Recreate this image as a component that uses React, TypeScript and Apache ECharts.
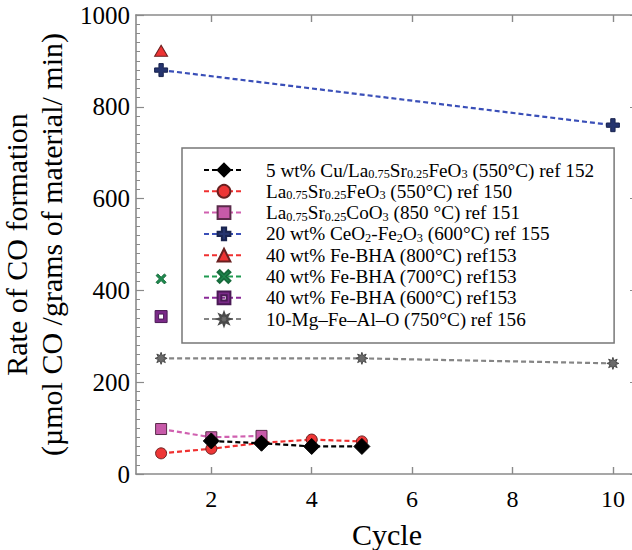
import React, { useEffect, useRef } from "react";
import * as echarts from "echarts";

// ---- data ----
const cycleTicks = [2, 4, 6, 8, 10];
const yTicks = [0, 200, 400, 600, 800, 1000];

const cuLsfCycles = [2, 3, 4, 5];
const cuLsfRates = [72, 67, 60, 60];

const lsfCycles = [1, 2, 3, 4, 5];
const lsfRates = [45, 55, 68, 75, 71];

const lscCycles = [1, 2, 3];
const lscRates = [98, 80, 83];

const ceFeCycles = [1, 10];
const ceFeRates = [880, 760];

const bha800Cycles = [1];
const bha800Rates = [922];

const bha700Cycles = [1];
const bha700Rates = [425];

const bha600Cycles = [1];
const bha600Rates = [343];

const mgCycles = [1, 5, 10];
const mgRates = [252, 252, 241];

const seriesNames = [
  "5 wt% Cu/La0.75Sr0.25FeO3 (550°C) ref 152",
  "La0.75Sr0.25FeO3 (550°C) ref 150",
  "La0.75Sr0.25CoO3 (850 °C) ref 151",
  "20 wt% CeO2-Fe2O3 (600°C) ref 155",
  "40 wt% Fe-BHA (800°C) ref153",
  "40 wt% Fe-BHA (700°C) ref153",
  "40 wt% Fe-BHA (600°C) ref153",
  "10-Mg–Fe–Al–O (750°C) ref 156",
];
const richLabels = [
  "5 wt% Cu/La{s|0.75}Sr{s|0.25}FeO{s|3} (550°C) ref 152",
  "La{s|0.75}Sr{s|0.25}FeO{s|3} (550°C) ref 150",
  "La{s|0.75}Sr{s|0.25}CoO{s|3} (850 °C) ref 151",
  "20 wt% CeO{s|2}-Fe{s|2}O{s|3} (600°C) ref 155",
  "40 wt% Fe-BHA (800°C) ref153",
  "40 wt% Fe-BHA (700°C) ref153",
  "40 wt% Fe-BHA (600°C) ref153",
  "10-Mg–Fe–Al–O (750°C) ref 156",
];

const pairs = (xs: number[], ys: number[]) => xs.map((x, i) => [x, ys[i]]);

function starPath(points: number, r1: number, r2: number) {
  let d = "";
  for (let i = 0; i < points * 2; i++) {
    const a = (i * Math.PI) / points - Math.PI / 2;
    const r = i % 2 === 0 ? r1 : r2;
    const x = (10 + r * Math.cos(a)).toFixed(2);
    const y = (10 + r * Math.sin(a)).toFixed(2);
    d += (i === 0 ? "M" : "L") + x + "," + y;
  }
  return "path://" + d + "Z";
}

const PLUS = "path://M4,0H8V4H12V8H8V12H4V8H0V4H4Z";
const XMARK = "path://M0,2L2,0L6,4L10,0L12,2L8,6L12,10L10,12L6,8L2,12L0,10L4,6Z";
const OPENSQ = "path://M0,0H12V12H0Z M3.5,3.5V8.5H8.5V3.5Z";
const STAR = starPath(8, 10, 5);

const FONT = "Liberation Serif";
const AXIS_COLOR = "#8a8a8a";
const DASH = [5, 3];

export default function App() {
  const ref = useRef<HTMLDivElement>(null);

  useEffect(() => {
    if (!ref.current) return;
    const chart = echarts.init(ref.current, undefined, { renderer: "svg" });

    const mk = (
      idx: number,
      data: number[][],
      lineColor: string,
      symbol: string,
      symbolSize: number | number[],
      fill: string,
      border: string,
      z: number
    ) => ({
      name: seriesNames[idx],
      type: "line",
      data,
      symbol,
      symbolSize,
      z,
      lineStyle: { color: lineColor, width: 2.2, type: DASH },
      itemStyle: { color: fill, borderColor: border, borderWidth: 1 },
      emphasis: { disabled: true },
    });

    const xAxisCommon = {
      type: "value",
      min: 0.5,
      max: 10.5,
      splitLine: { show: false },
      axisLine: { show: true, onZero: false, lineStyle: { color: AXIS_COLOR, width: 1.6 } },
      axisTick: {
        show: true,
        inside: true,
        length: 7,
        customValues: cycleTicks,
        lineStyle: { color: AXIS_COLOR, width: 1.4 },
      },
    };
    const yAxisCommon = {
      type: "value",
      min: 0,
      max: 1000,
      interval: 200,
      splitLine: { show: false },
      axisLine: { show: true, onZero: false, lineStyle: { color: AXIS_COLOR, width: 1.6 } },
      axisTick: { show: true, inside: true, length: 8, lineStyle: { color: AXIS_COLOR, width: 1.2 } },
      minorTick: { show: true, splitNumber: 10, length: 4, lineStyle: { color: AXIS_COLOR, width: 1 } },
    };

    chart.setOption({
      animation: false,
      backgroundColor: "#ffffff",
      textStyle: { fontFamily: FONT, color: "#000" },
      grid: {
        left: 136,
        top: 15,
        right: -6,
        bottom: 76,
        containLabel: false,
        outerBoundsMode: "none",
      },
      xAxis: [
        {
          ...xAxisCommon,
          position: "bottom",
          name: "Cycle",
          nameLocation: "middle",
          nameGap: 45,
          nameTextStyle: { fontFamily: FONT, fontSize: 30, color: "#000" },
          axisLabel: {
            customValues: cycleTicks,
            formatter: (v: number) => String(v),
            margin: 13,
            fontFamily: FONT,
            fontSize: 24,
            color: "#000",
          },
        },
        {
          ...xAxisCommon,
          position: "top",
          axisLabel: { show: false },
        },
      ],
      yAxis: [
        {
          ...yAxisCommon,
          position: "left",
          name: "Rate of CO formation\n(µmol CO /grams of material/ min)",
          nameLocation: "middle",
          nameRotate: 90,
          nameGap: 48,
          nameTextStyle: { fontFamily: FONT, fontSize: 30, lineHeight: 35, color: "#000" },
          axisLabel: {
            customValues: yTicks,
            formatter: (v: number) => String(v),
            margin: 6,
            fontFamily: FONT,
            fontSize: 25,
            color: "#000",
          },
        },
        {
          ...yAxisCommon,
          position: "right",
          axisLabel: { show: false },
        },
      ],
      legend: {
        orient: "vertical",
        left: 182,
        top: 148,
        align: "left",
        padding: [12, 20, 14, 21],
        itemGap: 1.3,
        itemWidth: 40,
        itemHeight: 16,
        backgroundColor: "#ffffff",
        borderColor: "#777777",
        borderWidth: 1.5,
        borderRadius: 0,
        data: seriesNames,
        formatter: (name: string) => richLabels[seriesNames.indexOf(name)],
        textStyle: {
          fontFamily: FONT,
          fontSize: 19.2,
          lineHeight: 20,
          color: "#000",
          padding: [0, 0, 0, 17],
          rich: {
            s: { fontFamily: FONT, fontSize: 12.3, lineHeight: 8, verticalAlign: "bottom", color: "#000" },
          },
        },
      },
      series: [
        mk(0, pairs(cuLsfCycles, cuLsfRates), "#000000", "diamond", 16, "#000000", "#000000", 10),
        mk(1, pairs(lsfCycles, lsfRates), "#f03030", "circle", 11, "#ee3636", "#6a2020", 8),
        mk(2, pairs(lscCycles, lscRates), "#d060b0", "rect", 11, "#c75aa9", "#5a2a4a", 7),
        mk(3, pairs(ceFeCycles, ceFeRates), "#3a4fb8", PLUS, 13, "#25346e", "#1a2550", 6),
        mk(4, pairs(bha800Cycles, bha800Rates), "#f03030", "triangle", [13, 11], "#ee3333", "#6a2020", 6),
        mk(5, pairs(bha700Cycles, bha700Rates), "#1f9a50", XMARK, 10, "#1d8a4e", "#176b3c", 6),
        mk(6, pairs(bha600Cycles, bha600Rates), "#8a2a98", OPENSQ, 12, "#7a2a88", "#4a1a55", 6),
        mk(7, pairs(mgCycles, mgRates), "#858585", STAR, 12, "#6a6a6a", "#4a4a4a", 6),
      ],
    } as any);

    return () => chart.dispose();
  }, []);

  return (
    <div
      ref={ref}
      style={{ position: "fixed", left: 0, top: 0, width: 632, height: 550 }}
    />
  );
}
